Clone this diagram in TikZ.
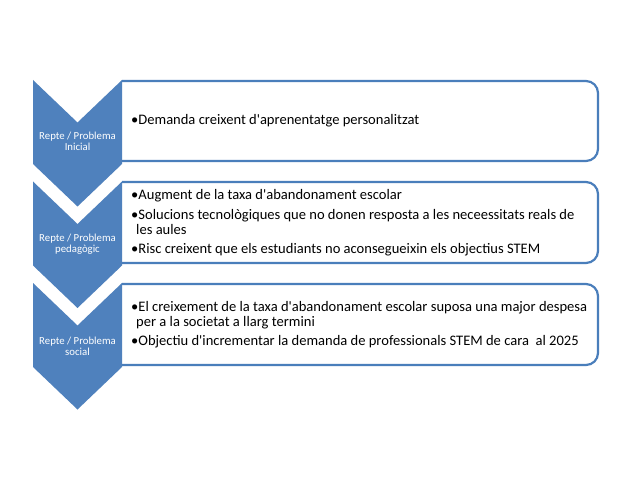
\documentclass[tikz,border=0pt]{standalone}
\usepackage{fontspec}
\setmainfont{Carlito}
\definecolor{accent}{HTML}{4F81BD}
\definecolor{boxline}{HTML}{4A7EBB}
\newcommand{\apos}{\textquotesingle}
\begin{document}
\begin{tikzpicture}[x=1bp,y=-1bp,
  chev/.style={fill=accent},
  listbox/.style={draw=boxline, line width=2.2bp, rounded corners=12bp},
  chevtext/.style={text=white, font=\fontsize{10.8}{11}\selectfont, anchor=base, inner sep=0pt},
  item/.style={anchor=base west, inner sep=0pt, font=\fontsize{14.6}{16}\selectfont}
]
\path[fill=white] (0,0) rectangle (640,480);
\useasboundingbox (0,0) rectangle (640,480);

% boxes
\draw[listbox] (122,81) -- (598,81) -- (598,161) -- (122,161);
\draw[listbox] (122,182) -- (598,182) -- (598,263) -- (122,263);
\draw[listbox] (122,284) -- (598,284) -- (598,365) -- (122,365);

% chevrons
\fill[chev] (33,80) -- (77.5,122.5) -- (122,80) -- (122,164) -- (77.5,206.5) -- (33,164) -- cycle;
\fill[chev] (33,181.5) -- (77.5,224) -- (122,181.5) -- (122,265.5) -- (77.5,308) -- (33,265.5) -- cycle;
\fill[chev] (33,283) -- (77.5,325.5) -- (122,283) -- (122,367) -- (77.5,409.5) -- (33,367) -- cycle;

% chevron labels
\node[chevtext] (c1a) at (77.5,140) {Repte / Problema};
\node[chevtext] (c1b) at (77.5,151) {Inicial};
\node[chevtext] (c2a) at (77.5,241.7) {Repte / Problema};
\node[chevtext] (c2b) at (77.5,252.7) {pedagògic};
\node[chevtext] (c3a) at (77.5,344) {Repte / Problema};
\node[chevtext] (c3b) at (77.5,355) {social};

% items
\node[item] (i1) at (131,125) {•Demanda creixent d\apos aprenentatge personalitzat};

\node[item] (i2) at (131,200) {•Augment de la taxa d\apos abandonament escolar};
\node[item] (i3) at (131,219.3) {•Solucions tecnològiques que no donen resposta a les neceessitats reals de};
\node[item] (i3b) at (136,235) {les aules};
\node[item] (i4) at (131,254) {•Risc creixent que els estudiants no aconsegueixin els objectius STEM};

\node[item] (i5) at (131,311) {•El creixement de la taxa d\apos abandonament escolar suposa una major despesa};
\node[item] (i5b) at (136,326.7) {per a la societat a llarg termini};
\node[item] (i6) at (131,345.7) {•Objectiu d\apos incrementar la demanda de professionals STEM de cara~ al 2025};
\end{tikzpicture}
\end{document}
